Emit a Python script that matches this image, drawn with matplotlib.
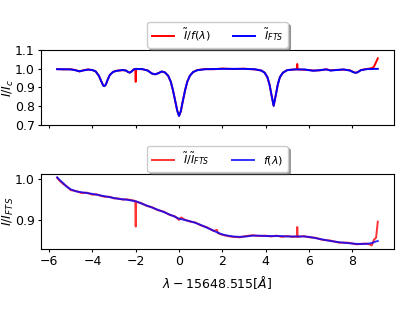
import numpy as np
import matplotlib
matplotlib.use('Agg')
import matplotlib.pyplot as plt
from matplotlib.ticker import MultipleLocator

plt.rcParams['font.size'] = 9
plt.rcParams['xtick.major.size'] = 2.3
plt.rcParams['ytick.major.size'] = 2.3
plt.rcParams['xtick.major.pad'] = 2.3
plt.rcParams['ytick.major.pad'] = 2.3

# Top panel: normalised spectrum, observed (red) vs FTS atlas (blue)
top_x = [-5.63, -5.3, -5.0, -4.8, -4.6, -4.4, -4.2, -4.0, -3.85, -3.7,
         -3.6, -3.5, -3.45, -3.38, -3.3, -3.2, -3.05, -2.9, -2.6, -2.45,
         -2.35, -2.28, -2.2, -2.1, -2.02, -2.0, -1.98, -1.7, -1.45, -1.25,
         -1.1, -0.95, -0.8, -0.65, -0.5, -0.38, -0.28, -0.18, -0.08, 0.0,
         0.08, 0.18, 0.28, 0.38, 0.5, 0.65, 0.85, 1.2, 1.6, 2.0,
         2.5, 3.0, 3.5, 3.8, 3.95, 4.08, 4.18, 4.27, 4.37, 4.47,
         4.56, 4.66, 4.8, 5.0, 5.3, 5.44, 5.46, 5.48, 5.8, 6.0,
         6.2, 6.5, 6.8, 7.0, 7.2, 7.6, 7.9, 8.05, 8.15, 8.25,
         8.4, 8.7, 8.9, 9.0, 9.1, 9.18]
top_fts = [0.997, 0.997, 0.996, 0.992, 0.986, 0.991, 0.995, 0.993, 0.985, 0.962,
           0.935, 0.910, 0.907, 0.915, 0.940, 0.966, 0.982, 0.988, 0.993, 0.990,
           0.982, 0.979, 0.984, 0.995, 0.998, 0.998, 0.998, 0.998, 0.990, 0.974,
           0.970, 0.976, 0.985, 0.980, 0.962, 0.930, 0.885, 0.830, 0.775, 0.748,
           0.772, 0.830, 0.885, 0.930, 0.962, 0.982, 0.992, 0.997, 0.998, 0.999,
           0.999, 0.999, 0.997, 0.990, 0.979, 0.955, 0.915, 0.860, 0.802, 0.860,
           0.915, 0.955, 0.979, 0.992, 0.996, 0.996, 0.996, 0.996, 0.996, 0.992,
           0.989, 0.992, 0.996, 0.990, 0.992, 0.996, 0.990, 0.981, 0.978, 0.981,
           0.992, 0.998, 0.998, 0.999, 0.999, 0.999]
top_obs = [0.998, 0.996, 0.997, 0.993, 0.985, 0.992, 0.996, 0.992, 0.986, 0.962,
           0.935, 0.910, 0.907, 0.915, 0.940, 0.966, 0.983, 0.989, 0.992, 0.990,
           0.982, 0.979, 0.984, 0.996, 0.999, 0.930, 0.999, 0.997, 0.991, 0.974,
           0.970, 0.976, 0.985, 0.980, 0.962, 0.930, 0.885, 0.830, 0.775, 0.749,
           0.772, 0.830, 0.885, 0.930, 0.962, 0.982, 0.993, 0.998, 0.997, 1.001,
           0.998, 1.000, 0.996, 0.990, 0.979, 0.955, 0.915, 0.860, 0.802, 0.860,
           0.915, 0.955, 0.979, 0.993, 0.995, 0.997, 1.025, 0.996, 0.994, 0.993,
           0.990, 0.991, 0.997, 0.991, 0.993, 0.995, 0.991, 0.982, 0.978, 0.981,
           0.993, 0.999, 1.003, 1.010, 1.035, 1.055]

# Bottom panel: observed / FTS ratio (red) and fitted f(lambda) (blue)
bot_x = [-5.63, -5.5, -5.35, -5.2, -5.0, -4.75, -4.5, -4.25, -4.0, -3.8,
         -3.6, -3.4, -3.2, -3.0, -2.8, -2.6, -2.43, -2.2, -2.02, -2.0,
         -1.98, -1.75, -1.5, -1.25, -1.0, -0.7, -0.43, -0.2, 0.0, 0.1,
         0.25, 0.5, 0.75, 1.0, 1.3, 1.6, 1.75, 1.8, 2.0, 2.25,
         2.5, 2.8, 3.1, 3.4, 3.7, 4.0, 4.25, 4.5, 4.75, 5.0,
         5.25, 5.44, 5.46, 5.48, 5.75, 6.0, 6.3, 6.6, 7.0, 7.4,
         7.8, 8.2, 8.6, 8.8, 8.9, 9.0, 9.1, 9.18]
bot_fit = [1.004, 0.997, 0.990, 0.982, 0.975, 0.970, 0.968, 0.966, 0.964, 0.962,
           0.960, 0.958, 0.956, 0.954, 0.952, 0.951, 0.950, 0.948, 0.946, 0.946,
           0.946, 0.941, 0.936, 0.931, 0.926, 0.920, 0.914, 0.909, 0.904, 0.903,
           0.901, 0.898, 0.894, 0.889, 0.882, 0.875, 0.871, 0.870, 0.866, 0.863,
           0.861, 0.860, 0.861, 0.863, 0.863, 0.862, 0.862, 0.862, 0.862, 0.861,
           0.861, 0.861, 0.861, 0.861, 0.861, 0.860, 0.857, 0.854, 0.850, 0.847,
           0.845, 0.843, 0.843, 0.844, 0.845, 0.847, 0.849, 0.850]
bot_ratio = [1.003, 0.995, 0.988, 0.983, 0.973, 0.971, 0.966, 0.967, 0.962, 0.963,
             0.959, 0.957, 0.957, 0.953, 0.953, 0.950, 0.951, 0.949, 0.947, 0.885,
             0.945, 0.942, 0.935, 0.932, 0.925, 0.921, 0.913, 0.910, 0.901, 0.907,
             0.902, 0.897, 0.895, 0.888, 0.883, 0.874, 0.877, 0.869, 0.865, 0.862,
             0.860, 0.859, 0.862, 0.864, 0.862, 0.863, 0.861, 0.863, 0.860, 0.862,
             0.860, 0.861, 0.884, 0.860, 0.862, 0.859, 0.858, 0.853, 0.851, 0.846,
             0.846, 0.842, 0.844, 0.842, 0.839, 0.853, 0.858, 0.897]

fig, (ax1, ax2) = plt.subplots(2, 1, sharex=True, figsize=(4.15, 3.12), dpi=100)
fig.subplots_adjust(left=0.099, right=0.949, top=0.84, bottom=0.202, hspace=0.653)

ax1.plot(top_x, top_obs, color='red', lw=1.4, label=r'$\tilde{I}/f(\lambda)$')
ax1.plot(top_x, top_fts, color='blue', lw=1.4, label=r'$\tilde{I}_{FTS}$')
ax1.set_ylim(0.7, 1.1)
ax1.set_yticks([0.7, 0.8, 0.9, 1.0, 1.1])
ax1.set_ylabel(r'$I/I_c$')
ax1.yaxis.set_label_coords(-0.072, 0.5)
ax1.legend(loc='lower center', bbox_to_anchor=(0.5, 1.0), ncol=2, shadow=True,
           fontsize=8, borderaxespad=0.2)

ax2.plot(bot_x, bot_ratio, color='red', lw=1.4, alpha=0.8, label=r'$\tilde{I}/\tilde{I}_{FTS}$')
ax2.plot(bot_x, bot_fit, color='blue', lw=1.4, alpha=0.8, label=r'$f(\lambda)$')
ax2.xaxis.set_major_locator(MultipleLocator(2))
ax2.yaxis.set_major_locator(MultipleLocator(0.1))
ax2.set_ylabel(r'$\tilde{I}/\tilde{I}_{FTS}$')
ax2.yaxis.set_label_coords(-0.072, 0.5)
ax2.set_xlabel(r'$\lambda - 15648.515 [\AA]$')
ax2.legend(loc='lower center', bbox_to_anchor=(0.5, 1.0), ncol=2, shadow=True,
           fontsize=8, borderaxespad=0.2)

fig.savefig('out.png', dpi=100)
